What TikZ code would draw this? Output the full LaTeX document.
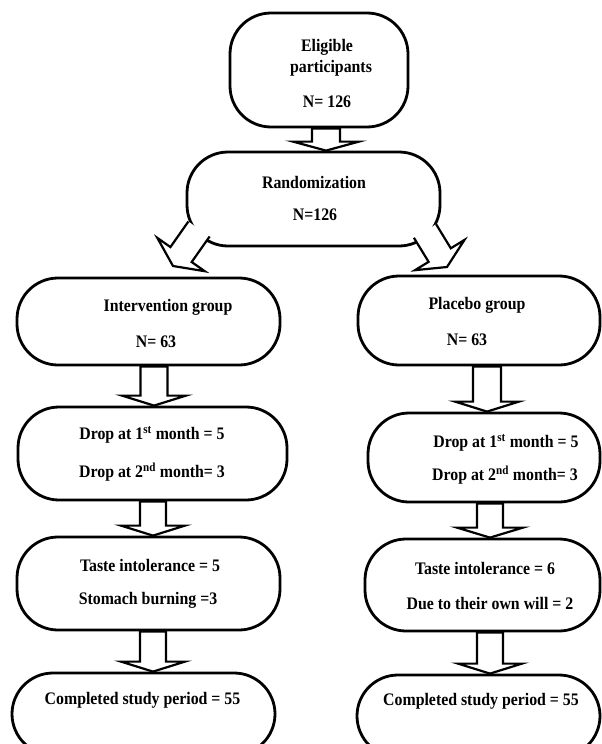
\documentclass[tikz,border=0pt]{standalone}
\usepackage{fontspec}
\setmainfont{Liberation Serif}[FakeStretch=0.9]
\usetikzlibrary{calc}
\tikzset{
  box/.style={draw, line width=2.8pt, rounded corners=41pt, inner sep=0pt},
  txt/.style={font=\fontsize{17.6}{20}\selectfont\bfseries, inner sep=0pt},
  barrowstyle/.style={draw, line width=2.2pt, fill=white, line join=miter}
}
% #1 start, #2 tip, #3 shaft half width, #4 head half width, #5 head length, #6 closing
\newcommand{\blockarrow}[6]{%
  \coordinate (ba-b) at ($(#2)!#5!(#1)$);
  \path[barrowstyle] ($(#1)!#3!90:(#2)$) -- ($(ba-b)!#3!90:(#2)$) -- ($(ba-b)!#4!90:(#2)$)
    -- (#2) -- ($(ba-b)!#4!-90:(#2)$) -- ($(ba-b)!#3!-90:(#2)$) -- ($(#1)!#3!-90:(#2)$) #6;
}
\begin{document}
\begin{tikzpicture}[x=1pt,y=-1pt]
\useasboundingbox[fill=white] (0,0) rectangle (602,744);
% boxes
\node[box, minimum width=178pt, minimum height=114pt] (b1) at (319,70) {};
\node[box, minimum width=253pt, minimum height=94pt] (b2) at (313.5,199) {};
\node[box, minimum width=263pt, minimum height=87pt] (b3) at (148.5,321.5) {};
\node[box, minimum width=242pt, minimum height=89pt] (b4) at (479,320.5) {};
\node[box, minimum width=269pt, minimum height=93pt] (b5) at (152.5,453.5) {};
\node[box, minimum width=232pt, minimum height=89pt] (b6) at (484,457.5) {};
\node[box, minimum width=263pt, minimum height=93pt] (b7) at (148.5,583.5) {};
\node[box, minimum width=235pt, minimum height=92pt] (b8) at (482.5,585) {};
\node[box, minimum width=263pt, minimum height=82pt] (b9) at (143.5,714) {};
\node[box, minimum width=243pt, minimum height=82pt] (b10) at (478.5,716) {};
% texts
\node[txt] (t1a) at (327,47) {Eligible};
\node[txt] (t1b) at (331,68) {participants};
\node[txt] (t1c) at (327,102) {N= 126};
\node[txt] (t2a) at (314,182) {Randomization};
\node[txt] (t2b) at (315,215) {N=126};
\node[txt] (t3a) at (168,307) {Intervention group};
\node[txt] (t3b) at (156,342) {N= 63};
\node[txt] (t4a) at (477,305) {Placebo group};
\node[txt] (t4b) at (467,340) {N= 63};
\node[txt] (t5a) at (152,435) {Drop at 1\textsuperscript{st} month = 5};
\node[txt] (t5b) at (152,472) {Drop at 2\textsuperscript{nd} month= 3};
\node[txt] (t6a) at (506,443) {Drop at 1\textsuperscript{st} month = 5};
\node[txt] (t6b) at (505,475) {Drop at 2\textsuperscript{nd} month= 3};
\node[txt] (t7a) at (150,565) {Taste intolerance = 5};
\node[txt] (t7b) at (148,600) {Stomach burning =3};
\node[txt] (t8a) at (485,568) {Taste intolerance = 6};
\node[txt] (t8b) at (490,603) {Due to their own will = 2};
\node[txt] (t9a) at (142.5,700) {Completed study period = 55};
\node[txt] (t10a) at (481,701) {Completed study period = 55};
% arrow end points
\coordinate (s12) at ($(b1.south)+(7,0)$);
\coordinate (e12) at ($(b2.north)+(12.5,0)$);
\coordinate (s23) at ($(b2.center)+(-114.5,30)$);
\coordinate (e23) at ($(b2.center)+(-140.5,67)$);
\coordinate (s24) at ($(b2.center)+(111.5,32)$);
\coordinate (e24) at ($(b2.center)+(133.5,68)$);
\coordinate (s35) at ($(b3.south)+(5.5,0)$);
\coordinate (e35) at ($(b5.north)+(1.5,0)$);
\coordinate (s46) at ($(b4.south)+(8,0)$);
\coordinate (e46) at ($(b6.north)+(3,0)$);
\coordinate (s57) at ($(b5.south)+(0.5,0)$);
\coordinate (e57) at ($(b7.north)+(4.5,0)$);
\coordinate (s68) at ($(b6.south)+(6,0)$);
\coordinate (e68) at ($(b8.north)+(7.5,0)$);
\coordinate (s79) at ($(b7.south)+(4.5,0)$);
\coordinate (e79) at ($(b9.north)+(9.5,0)$);
\coordinate (s810) at ($(b8.south)+(7.5,0)$);
\coordinate (e810) at ($(b10.north)+(11.5,0)$);
% arrows
\blockarrow{s12}{e12}{14pt}{33pt}{9pt}{-- cycle}
\blockarrow{s23}{e23}{13pt}{29pt}{14pt}{}
\blockarrow{s24}{e24}{13pt}{29pt}{14pt}{}
\blockarrow{s35}{e35}{13.5pt}{32pt}{10pt}{-- cycle}
\blockarrow{s46}{e46}{14pt}{32pt}{10pt}{-- cycle}
\blockarrow{s57}{e57}{13pt}{32pt}{10pt}{-- cycle}
\blockarrow{s68}{e68}{13pt}{33pt}{10pt}{-- cycle}
\blockarrow{s79}{e79}{13pt}{32pt}{10pt}{-- cycle}
\blockarrow{s810}{e810}{13pt}{32pt}{10pt}{-- cycle}
\end{tikzpicture}
\end{document}
